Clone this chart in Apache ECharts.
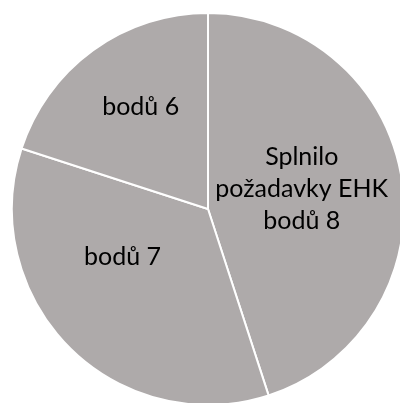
<!DOCTYPE html>
<html>
<head>
<meta charset="utf-8">
<style>
  html, body { margin: 0; padding: 0; background: #ffffff; }
  #chart { width: 400px; height: 403px; }
</style>
<script src="https://cdn.jsdelivr.net/npm/echarts@6/dist/echarts.min.js"></script>
</head>
<body>
<div id="chart"></div>
<script>
// Data
const categories = ["Splnilo\npožadavky EHK\nbodů 8", "bodů 7", "bodů 6"];
const values = [9, 7, 4];

// Styling (kept separate from data)
const sliceColor = "#AEAAAA";
const labelOffsets = [[-6, -4], [-14, -23], [-8, -20]];

const chart = echarts.init(document.getElementById("chart"), null, { renderer: "canvas" });

const seriesData = categories.map((name, i) => ({
  name: name,
  value: values[i],
  label: { offset: labelOffsets[i] }
}));

chart.setOption({
  animation: false,
  backgroundColor: "#ffffff",
  series: [{
    type: "pie",
    center: [208, 209],
    radius: [0, 196],
    startAngle: 90,
    clockwise: true,
    avoidLabelOverlap: false,
    silent: true,
    itemStyle: {
      color: sliceColor,
      borderColor: "#ffffff",
      borderWidth: 2
    },
    label: {
      show: true,
      position: "inside",
      formatter: "{b}",
      color: "#000000",
      fontFamily: "Lato",
      fontSize: 25,
      lineHeight: 32,
      align: "center"
    },
    labelLine: { show: false },
    emphasis: { disabled: true },
    data: seriesData
  }]
});
</script>
</body>
</html>
